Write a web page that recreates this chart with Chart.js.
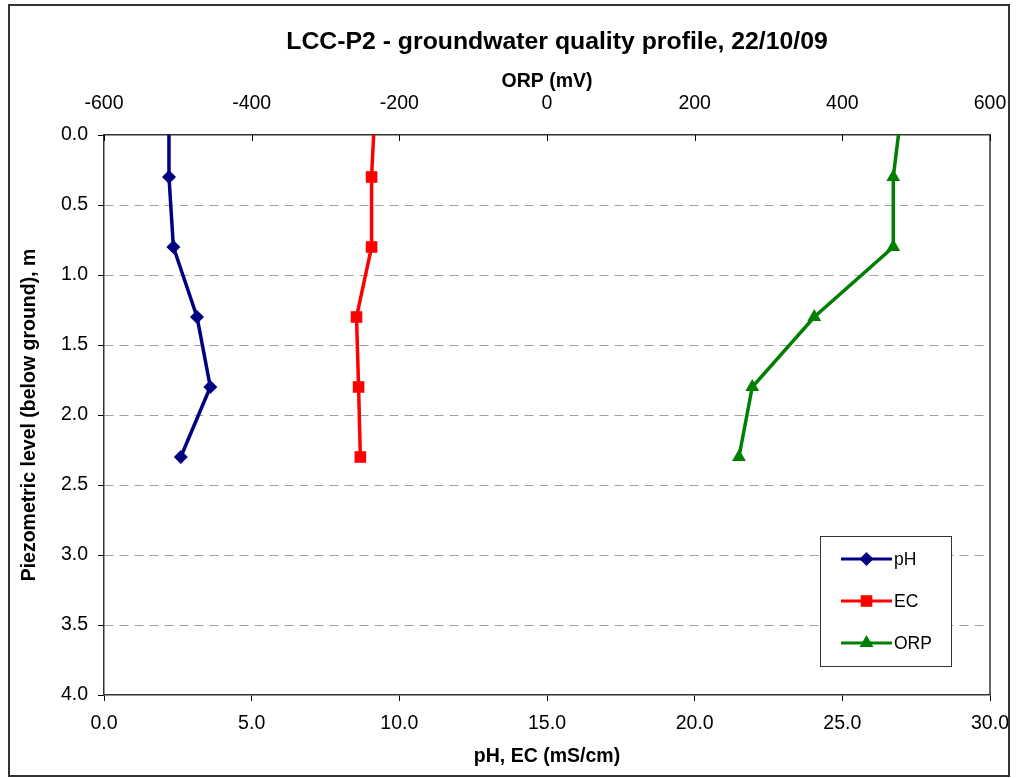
<!DOCTYPE html>
<html>
<head>
<meta charset="utf-8">
<script src="https://cdn.jsdelivr.net/npm/chart.js@4/dist/chart.umd.min.js"></script>
<style>
  body { margin: 0; background: #fff; }
  canvas { display: block; }
</style>
</head>
<body>
<canvas id="chart" width="1016" height="778"></canvas>
<script>
// depth below ground (m) of each reading
const depths = [0, 0.3, 0.8, 1.3, 1.8, 2.3];
const phValues = [2.2, 2.2, 2.35, 3.15, 3.6, 2.6];
const ecValues = [9.13, 9.06, 9.06, 8.55, 8.62, 8.68];
const orpValues = [476, 469, 469, 362, 278, 260];

const seriesNames = ['pH', 'EC', 'ORP'];
const chartTitle = 'LCC-P2 - groundwater quality profile, 22/10/09';

const FONT = '"Liberation Sans", Arial, sans-serif';

const toPoints = (values) => values.map((v, i) => ({ x: v, y: depths[i] }));
// no marker on the surface reading
const radii = (r) => depths.map((d, i) => (i === 0 ? 0 : r));

const frame = {
  id: 'frame',
  beforeDraw(chart) {
    const { ctx } = chart;
    ctx.save();
    ctx.fillStyle = '#fff';
    ctx.fillRect(0, 0, chart.width, chart.height);
    ctx.restore();
  },
  beforeDatasetsDraw(chart) {
    const { ctx, chartArea: a, scales } = chart;
    ctx.save();
    ctx.strokeStyle = '#333';
    ctx.lineWidth = 1.5;
    ctx.beginPath();
    ctx.moveTo(a.right, a.top);
    ctx.lineTo(a.right, a.bottom);
    ctx.stroke();
    // inward tick marks on the ORP axis
    ctx.strokeStyle = '#000';
    ctx.lineWidth = 1;
    scales.x2.ticks.forEach((t) => {
      const px = Math.round(scales.x2.getPixelForValue(t.value)) + 0.5;
      ctx.beginPath();
      ctx.moveTo(px, a.top);
      ctx.lineTo(px, a.top + 6);
      ctx.stroke();
    });
    ctx.restore();
  },
  afterDraw(chart) {
    const { ctx } = chart;
    ctx.save();
    ctx.strokeStyle = '#333';
    ctx.lineWidth = 2;
    ctx.strokeRect(9, 5, 1000, 771);

    ctx.fillStyle = '#000';
    ctx.font = 'bold 24.8px ' + FONT;
    ctx.textAlign = 'center';
    ctx.textBaseline = 'middle';
    ctx.fillText(chartTitle, 557, 42);

    // legend box
    ctx.fillStyle = '#fff';
    ctx.fillRect(820.5, 536.5, 131, 130);
    ctx.strokeStyle = '#333';
    ctx.lineWidth = 1;
    ctx.strokeRect(820.5, 536.5, 131, 130);
    chart.data.datasets.forEach((ds, i) => {
      const y = 559 + i * 42;
      ctx.strokeStyle = ds.borderColor;
      ctx.lineWidth = 3;
      ctx.beginPath();
      ctx.moveTo(841, y);
      ctx.lineTo(892, y);
      ctx.stroke();
      ctx.fillStyle = ds.backgroundColor;
      Chart.helpers.drawPoint(ctx, {
        pointStyle: ds.pointStyle,
        radius: ds.pointRadius[1],
        rotation: 0,
        borderWidth: 0,
      }, 866.5, y);
      ctx.fillStyle = '#000';
      ctx.font = '17.5px ' + FONT;
      ctx.textAlign = 'left';
      ctx.textBaseline = 'middle';
      ctx.fillText(ds.label, 894, y + 1);
    });
    ctx.restore();
  },
};

const noSidePadding = (s) => {
  s.paddingLeft = 0;
  s.paddingRight = 0;
};

new Chart(document.getElementById('chart'), {
  type: 'scatter',
  data: {
    datasets: [
      {
        label: seriesNames[0],
        data: toPoints(phValues),
        xAxisID: 'x',
        borderColor: '#000080',
        backgroundColor: '#000080',
        pointStyle: 'rectRot',
        pointRadius: radii(7),
      },
      {
        label: seriesNames[1],
        data: toPoints(ecValues),
        xAxisID: 'x',
        borderColor: '#ff0000',
        backgroundColor: '#ff0000',
        pointStyle: 'rect',
        pointRadius: radii(8.2),
      },
      {
        label: seriesNames[2],
        data: toPoints(orpValues),
        xAxisID: 'x2',
        borderColor: '#008000',
        backgroundColor: '#008000',
        pointStyle: 'triangle',
        pointRadius: radii(8),
      },
    ].map((ds) => ({
      ...ds,
      yAxisID: 'y',
      showLine: true,
      borderWidth: 3.5,
      pointBorderWidth: 0,
      pointHoverRadius: ds.pointRadius,
      clip: false,
    })),
  },
  options: {
    responsive: false,
    animation: false,
    events: [],
    layout: {
      padding: { top: 55, left: 9, right: 26, bottom: 3 },
    },
    plugins: {
      legend: { display: false },
      tooltip: { enabled: false },
    },
    scales: {
      x: {
        type: 'linear',
        position: 'bottom',
        min: 0,
        max: 30,
        afterFit: (s) => {
          s.height = 80;
          noSidePadding(s);
        },
        grid: {
          drawOnChartArea: false,
          tickLength: 6,
          tickColor: '#000',
        },
        border: { color: '#333', width: 1.5 },
        ticks: {
          stepSize: 5,
          padding: 10.5,
          maxRotation: 0,
          color: '#000',
          font: { family: FONT, size: 19.5 },
          callback: (v) => v.toFixed(1),
        },
        title: {
          display: true,
          text: 'pH, EC (mS/cm)',
          color: '#000',
          padding: { top: 0, bottom: 6.5 },
          font: { family: FONT, size: 19.5, weight: 'bold' },
        },
      },
      x2: {
        type: 'linear',
        position: 'top',
        min: -600,
        max: 600,
        afterFit: (s) => {
          s.height = 80;
          noSidePadding(s);
        },
        grid: {
          drawOnChartArea: false,
          drawTicks: false,
        },
        border: { color: '#333', width: 1.5 },
        ticks: {
          stepSize: 200,
          padding: 20,
          maxRotation: 0,
          color: '#000',
          font: { family: FONT, size: 19.5 },
        },
        title: {
          display: true,
          text: 'ORP (mV)',
          color: '#000',
          padding: { top: 14.5, bottom: 0 },
          font: { family: FONT, size: 19.5, weight: 'bold' },
        },
      },
      y: {
        type: 'linear',
        position: 'left',
        reverse: true,
        min: 0,
        max: 4,
        afterFit: (s) => {
          s.width = 95;
          s.paddingTop = 0;
          s.paddingBottom = 0;
        },
        grid: {
          color: (ctx) => (ctx.tick && (ctx.tick.value === 0 || ctx.tick.value === 4) ? 'rgba(0,0,0,0)' : '#a0a0a0'),
          tickColor: '#000',
          tickLength: 6,
          tickBorderDash: [],
        },
        border: { color: '#333', width: 1.5, dash: [9, 6] },
        ticks: {
          stepSize: 0.5,
          padding: 10,
          color: '#000',
          font: { family: FONT, size: 19.5 },
          callback: (v) => v.toFixed(1),
        },
        title: {
          display: true,
          text: 'Piezometric level (below ground), m',
          color: '#000',
          padding: { top: 9, bottom: 0 },
          font: { family: FONT, size: 19.5, weight: 'bold' },
        },
      },
    },
  },
  plugins: [frame],
});
</script>
</body>
</html>
